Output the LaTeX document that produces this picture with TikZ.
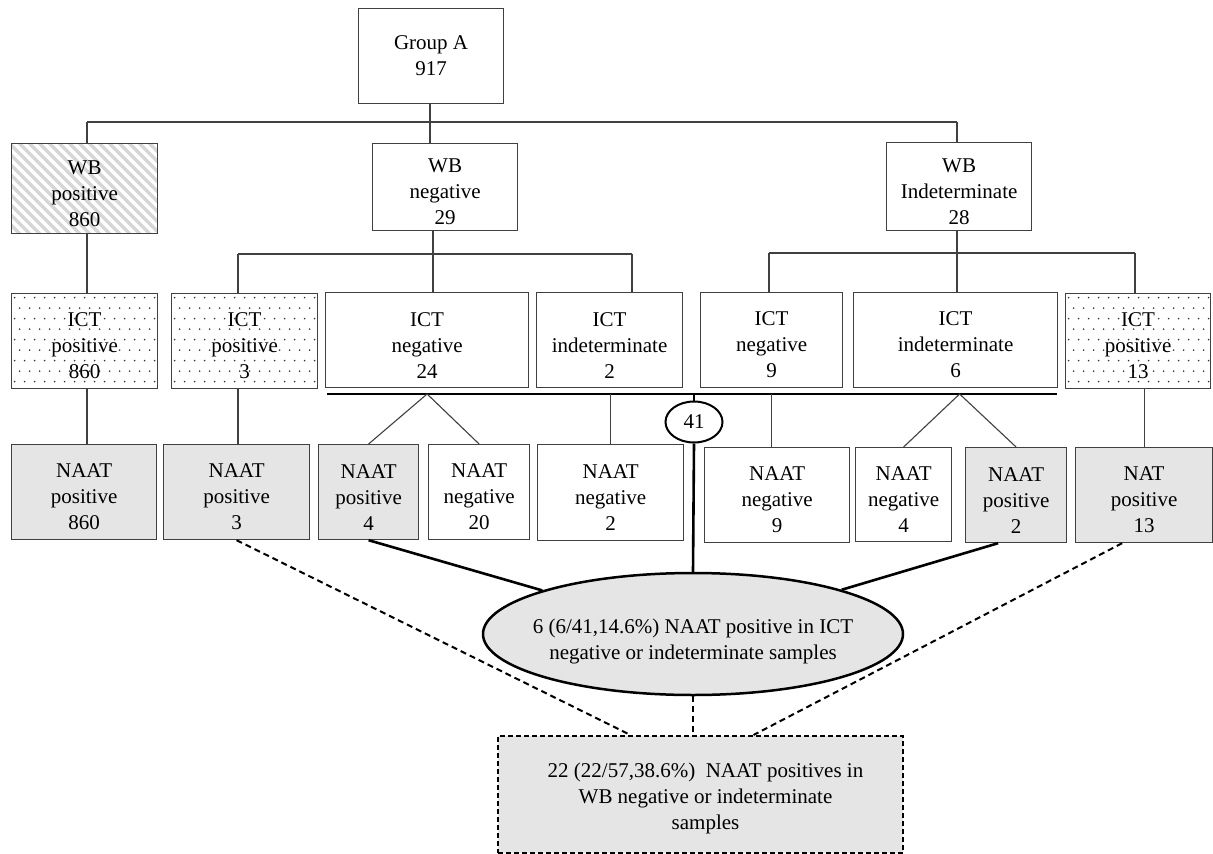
\documentclass[tikz,border=0pt]{standalone}
\usepackage{fontspec}
\setmainfont{Liberation Serif}
\usetikzlibrary{shapes.geometric,calc}
\tikzset{
  txt/.style={font=\fontsize{21}{26}\selectfont, align=center},
  bx/.style={draw=black!75, line width=1.2pt, anchor=north west, inner sep=0pt},
  gbx/.style={bx, fill=black!10},
  dotbx/.style={bx, path picture={
    \foreach \j in {0,...,9}{\foreach \i in {0,...,15}{
      \fill[black!80] ($(path picture bounding box.north west)+({\i*10+3+5*mod(\j,2)},{\j*10.5+4})$) circle (0.9pt);}}}},
  hatchbx/.style={bx, path picture={
    \foreach \k in {-16,...,16}{
      \draw[black!16, line width=3.5pt] ($(path picture bounding box.center)+({\k*10-60},-60)$) -- ++(120,120);}}},
  conn/.style={draw=black!75, line width=1.1pt},
  thk/.style={draw=black, line width=2.6pt},
  dsh/.style={draw=black, line width=2pt, dash pattern=on 6pt off 4pt},
}
% name, style, x1, y1, x2, y2, text ; text lowered a little as in the reference
\newcommand{\bnode}[7]{\node[#2, minimum width={#5-#3}, minimum height={#6-#4}] (#1) at (#3,#4) {};
  \node[txt] (#1-t) at ([yshift=-5pt]#1.center) {#7};}
\begin{document}
\begin{tikzpicture}[x=1pt, y=-1pt]
\fill[white] (0,0) rectangle (1213,854);
\useasboundingbox (0,0) rectangle (1213,854);

% level 0
\node[bx, minimum width=145pt, minimum height=95pt] (ga) at (358,8) {};
\node[txt] (ga-t) at (ga.center) {Group A\\917};
% level 1
\bnode{wbpos}{hatchbx}{11}{143}{157}{233}{WB\\positive\\860}
\bnode{wbneg}{bx}{372}{143}{517}{230}{WB\\negative\\29}
\bnode{wbind}{bx}{886}{142}{1031}{230}{WB\\Indeterminate\\28}
% level 2
\bnode{ictposA}{dotbx}{11}{293}{157}{388}{ICT\\positive\\860}
\bnode{ictposB}{dotbx}{171}{293}{317}{388}{ICT\\positive\\3}
\bnode{ictnegA}{bx}{325}{292}{528}{387}{ICT\\negative\\24}
\bnode{ictindA}{bx}{536}{292}{682}{387}{ICT\\indeterminate\\2}
\bnode{ictnegB}{bx}{700}{292}{842}{387}{ICT\\negative\\9}
\bnode{ictindB}{bx}{853}{292}{1057}{387}{ICT\\indeterminate\\6}
\bnode{ictposC}{dotbx}{1065}{293}{1210}{388}{ICT\\positive\\13}
% level 3
\bnode{naatposA}{gbx}{11}{444}{156}{539}{NAAT\\positive\\860}
\bnode{naatposB}{gbx}{163}{444}{309}{539}{NAAT\\positive\\3}
\bnode{naatposC}{gbx}{318}{444}{418}{539}{NAAT\\positive\\4}
\bnode{naatnegA}{bx}{428}{444}{529}{539}{NAAT\\negative\\20}
\bnode{naatnegB}{bx}{537}{444}{683}{540}{NAAT\\negative\\2}
\bnode{naatnegC}{bx}{704}{447}{849}{542}{NAAT\\negative\\9}
\bnode{naatnegD}{bx}{855}{447}{951}{541}{NAAT\\negative\\4}
\bnode{naatposD}{gbx}{965}{447}{1066}{542}{NAAT\\positive\\2}
\bnode{natpos}{gbx}{1075}{447}{1212}{542}{NAT\\positive\\13}

% ellipses and summary box
\node[ellipse, draw=black, line width=2pt, fill=white, minimum width=57pt, minimum height=41pt, inner sep=0pt, txt] (e41) at (694,422) {41};
\node[ellipse, draw=black, line width=2.5pt, fill=black!10, minimum width=420pt, minimum height=122pt, inner sep=0pt] (big) at (693,634) {};
\node[txt] (bigtxt) at ([yshift=-7pt]big.center) {6 (6/41,14.6\%) NAAT positive in ICT\\negative or indeterminate samples};
\node[draw=black, line width=2pt, dash pattern=on 5pt off 3pt, fill=black!10, anchor=north west, inner sep=0pt, minimum width=405pt, minimum height=117pt] (sumbox) at (497,735) {};
\node[txt] (sumtxt) at ([xshift=5pt,yshift=-4pt]sumbox.center) {22 (22/57,38.6\%)\ \ NAAT positives in\\WB negative or indeterminate\\samples};

% bus coordinates
\coordinate (jA) at (430,122);
\coordinate (jP) at (87,122);
\coordinate (jI) at (957,122);
\coordinate (kL1) at (238,254);
\coordinate (kL2) at (433,254);
\coordinate (kL3) at (632,254);
\coordinate (kR1) at (769,253);
\coordinate (kR2) at (957,253);
\coordinate (kR3) at (1135,253);
\coordinate (tL) at (327,394);
\coordinate (tR) at (1057,394);

% level 0 -> 1
\draw[conn] (ga.south -| jA) -- (jA);
\draw[conn] (jP) -- (jI);
\draw[conn] (jP) -- (wbpos.north -| jP);
\draw[conn] (jA) -- (wbneg.north -| jA);
\draw[conn] (jI) -- (wbind.north -| jI);
% WB positive branch
\draw[conn] (wbpos.south -| jP) -- (ictposA.north -| jP);
\draw[conn] (ictposA.south -| jP) -- (naatposA.north -| jP);
% WB negative branch
\draw[conn] (wbneg.south -| kL2) -- (kL2);
\draw[conn] (kL1) -- (kL3);
\draw[conn] (kL1) -- (ictposB.north -| kL1);
\draw[conn] (kL2) -- (ictnegA.north -| kL2);
\draw[conn] (kL3) -- (ictindA.north -| kL3);
\draw[conn] (ictposB.south -| kL1) -- (naatposB.north -| kL1);
% WB indeterminate branch
\draw[conn] (wbind.south -| kR2) -- (kR2);
\draw[conn] (kR1) -- (kR3);
\draw[conn] (kR1) -- (ictnegB.north -| kR1);
\draw[conn] (kR2) -- (ictindB.north -| kR2);
\draw[conn] (kR3) -- (ictposC.north -| kR3);
\draw[conn] (natpos.north |- ictposC.south) -- (natpos.north);

% thick bus under ICT negative / indeterminate
\draw[thk] (tL) -- (tR);
\draw[conn] (naatposC.north) -- (ictnegA.south |- tL) -- (naatnegA.north);
\draw[conn] (naatnegB.north |- tL) -- (naatnegB.north);
\draw[conn] (ictnegB.south |- tL) -- (ictnegB.south |- naatnegC.north);
\draw[conn] (naatnegD.north) -- ([xshift=4pt]ictindB.south |- tL) -- (naatposD.north);

% to the 41 ellipse and summary ellipse
\draw[thk] (e41.north |- tL) -- (e41.north);
\draw[thk] (e41.south) -- (big.north);
\draw[thk] (naatposC.south) -- (big);
\draw[thk] ([xshift=-18pt]naatposD.south) -- (big);

% dashed links to summary box
\draw[dsh] (naatposB.south) -- ([xshift=-70pt]sumbox.north);
\draw[dsh] ([xshift=-22pt]natpos.south) -- ([xshift=53pt]sumbox.north);
\draw[dsh] (big.south) -- (big.south |- sumbox.north);
\end{tikzpicture}
\end{document}
